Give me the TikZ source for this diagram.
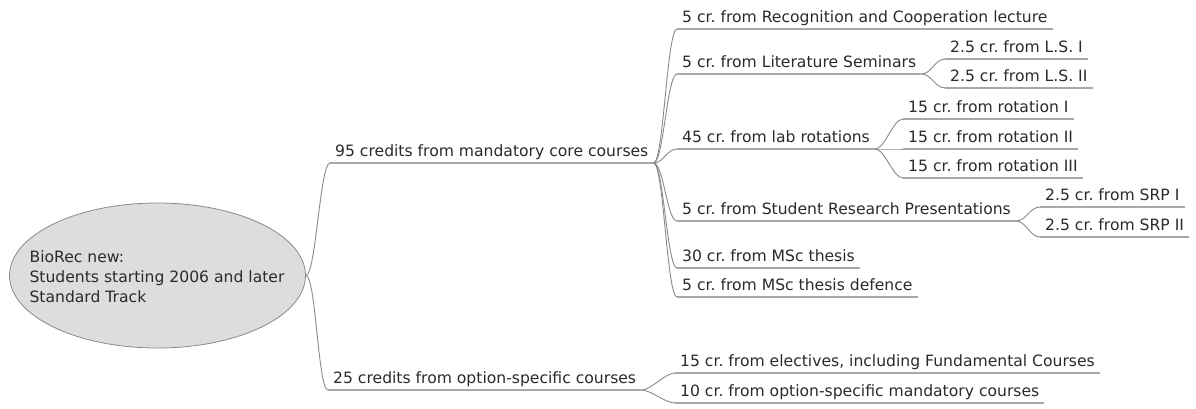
\documentclass[tikz,border=0pt]{standalone}
\usepackage{fontspec}
\setmainfont{DejaVu Sans}
\usetikzlibrary{shapes.geometric}
\frenchspacing
\definecolor{txt}{HTML}{2A2A2A}
\definecolor{edgec}{HTML}{8A8A8A}
\definecolor{ulc}{HTML}{A8A8A8}
\definecolor{rootfill}{HTML}{DCDDDD}
\tikzset{
  item/.style={anchor=south west, inner xsep=5pt, inner ysep=2.5pt, text depth=3.5pt, text height=11pt,
    font=\fontsize{15.6}{18}\selectfont, text=txt},
  uline/.style={draw=ulc, line width=1.4pt},
  conn/.style={draw=edgec, line width=0.9pt},
}
\newcommand{\ul}[1]{\draw[uline] (#1.south west) -- (#1.south east);}
\newcommand{\cn}[2]{\draw[conn] (#1) .. controls +(10,0) and +(-10,0) .. (#2);}
\begin{document}
\begin{tikzpicture}[x=1pt,y=-1pt]
\useasboundingbox (0,0) rectangle (1196,408);
\node[ellipse, draw=edgec, fill=rootfill, line width=0.8pt, minimum width=296pt, minimum height=145pt, inner sep=0pt] (root) at (157.5,275.5) {};
\node[align=left, font=\fontsize{15.6}{20}\selectfont, text=txt, inner sep=0pt] (roottext) at (157,277) {BioRec new:\\Students starting 2006 and later\\Standard Track};

\node[item] (a) at (330,163) {95 credits from mandatory core courses};
\node[item] (b) at (328,390) {25 credits from option-specific courses};

\node[item] (a1) at (677,29) {5 cr. from Recognition and Cooperation lecture};
\node[item] (a2) at (677,74) {5 cr. from Literature Seminars};
\node[item] (a3) at (677,149) {45 cr. from lab rotations};
\node[item] (a4) at (677,221) {5 cr. from Student Research Presentations};
\node[item] (a5) at (677,268) {30 cr. from MSc thesis};
\node[item] (a6) at (677,297) {5 cr. from MSc thesis defence};

\node[item] (a21) at (945,59) {2.5 cr. from L.S. I};
\node[item] (a22) at (945,88) {2.5 cr. from L.S. II};

\node[item] (a31) at (903,119) {15 cr. from rotation I};
\node[item] (a32) at (903,149) {15 cr. from rotation II};
\node[item] (a33) at (903,178) {15 cr. from rotation III};

\node[item] (a41) at (1040,207) {2.5 cr. from SRP I};
\node[item] (a42) at (1040,237) {2.5 cr. from SRP II};

\node[item] (b1) at (675,373) {15 cr. from electives, including Fundamental Courses};
\node[item] (b2) at (675,403) {10 cr. from option-specific mandatory courses};

\foreach \n in {a,b,a1,a2,a3,a4,a5,a6,a21,a22,a31,a32,a33,a41,a42,b1,b2} {\ul{\n}}

\cn{root.east}{a.south west}
\cn{root.east}{b.south west}
\foreach \c in {a1,a2,a3,a4,a5,a6} {\cn{a.south east}{\c.south west}}
\foreach \c in {a21,a22} {\cn{a2.south east}{\c.south west}}
\foreach \c in {a31,a32,a33} {\cn{a3.south east}{\c.south west}}
\foreach \c in {a41,a42} {\cn{a4.south east}{\c.south west}}
\foreach \c in {b1,b2} {\cn{b.south east}{\c.south west}}
\end{tikzpicture}
\end{document}
